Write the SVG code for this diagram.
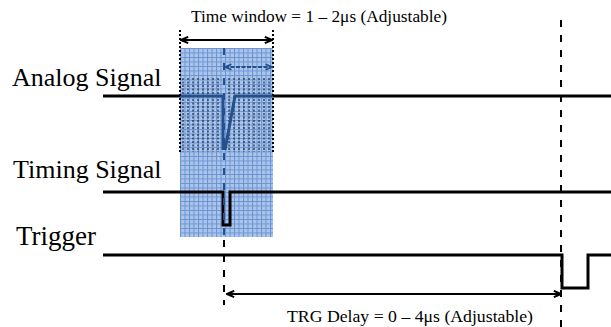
<svg xmlns="http://www.w3.org/2000/svg" width="611" height="327" viewBox="0 0 611 327">
<style>
.lbl{font-family:"Liberation Serif","Times New Roman",serif;fill:#000}
.sig{fill:none;stroke:#000;stroke-width:3}
.dash{fill:none;stroke:#000;stroke-width:2;stroke-dasharray:7 8}
.dot{fill:none;stroke:#000;stroke-width:2;stroke-dasharray:2 2}
.arr{fill:none;stroke:#000;stroke-width:2}
</style>
<defs>
<pattern id="grid" x="180" y="48" width="4.5" height="4.5" patternUnits="userSpaceOnUse">
<rect width="4.5" height="4.5" fill="#abc5ea"/>
<path d="M0 0.5H4.5M0.5 0V4.5" stroke="#6b93d2" stroke-width="1"/>
</pattern>
<marker id="ah" viewBox="0 0 10 10" refX="9" refY="5" markerWidth="9" markerHeight="9" orient="auto-start-reverse" markerUnits="userSpaceOnUse">
<path d="M1 1.5L9 5L1 8.5" fill="none" stroke="#000" stroke-width="2.2"/>
</marker>
<marker id="ahb" viewBox="0 0 10 10" refX="9" refY="5" markerWidth="8" markerHeight="8" orient="auto-start-reverse" markerUnits="userSpaceOnUse">
<path d="M1 1.5L9 5L1 8.5" fill="none" stroke="#24508c" stroke-width="2"/>
</marker>
</defs>
<g id="window">
<rect x="180" y="48" width="93" height="189" fill="url(#grid)"/>
<g stroke="#1c2c44" stroke-width="1.4" stroke-dasharray="2 1.5" opacity="0.85">
<path d="M183 78V152M188 78V152M193 78V152M198 78V152M203 78V152M208 78V152M213 78V152M218 78V152M229 78V152M234 78V152M239 78V152M244 78V152M249 78V152M254 78V152M259 78V152M264 78V152M269 78V152"/>
</g>
</g>
<g id="labels">
<text class="lbl" x="12" y="86" font-size="26">Analog Signal</text>
<text class="lbl" x="13" y="178" font-size="26">Timing Signal</text>
<text class="lbl" x="16" y="245" font-size="27">Trigger</text>
<text class="lbl" x="191" y="22" font-size="17" textLength="256" lengthAdjust="spacingAndGlyphs">Time window = 1 – 2μs (Adjustable)</text>
<text class="lbl" x="287" y="322" font-size="17" textLength="246" lengthAdjust="spacingAndGlyphs">TRG Delay = 0 – 4μs (Adjustable)</text>
</g>
<g id="analog">
<path class="sig" d="M103 96H180"/>
<path d="M180 96H223V150M225 150L235 96H273" fill="none" stroke="#24508c" stroke-width="3"/>
<path class="sig" d="M273 96H611"/>
</g>
<g id="timing">
<path class="sig" d="M103 192H223V225H230V192H611"/>
</g>
<g id="trigger">
<path class="sig" d="M103 255H562V288H588V255H611"/>
</g>
<g id="connectors">
<path class="dot" d="M180 30V152M273 30V152"/>
<path d="M224 48V237" fill="none" stroke="#24508c" stroke-width="2" stroke-dasharray="7 8"/>
<path class="dash" d="M224 240V305"/>
<path class="dash" d="M561 20V327"/>
<path class="arr" d="M181 40H272" marker-start="url(#ah)" marker-end="url(#ah)"/>
<path d="M225 67H272" fill="none" stroke="#24508c" stroke-width="1.8" stroke-dasharray="4 1.5" marker-start="url(#ahb)" marker-end="url(#ahb)"/>
<path class="arr" d="M227 294H561" marker-start="url(#ah)" marker-end="url(#ah)"/>
</g>
</svg>
